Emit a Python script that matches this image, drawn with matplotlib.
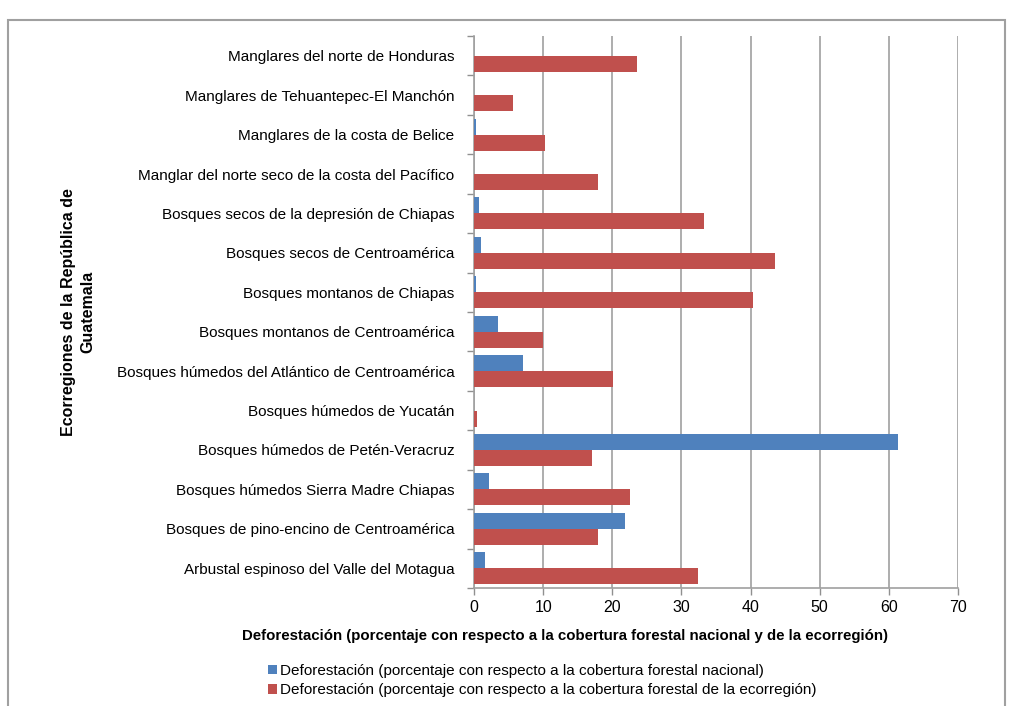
import matplotlib.pyplot as plt
import matplotlib.patches as patches
import numpy as np

plt.rcParams['font.family'] = ['Liberation Sans Narrow', 'Liberation Sans', 'DejaVu Sans']

# categories listed bottom to top (as drawn)
categories = [
    'Arbustal espinoso del Valle del Motagua',
    'Bosques de pino-encino de Centroamérica',
    'Bosques húmedos Sierra Madre Chiapas',
    'Bosques húmedos de Petén-Veracruz',
    'Bosques húmedos de Yucatán',
    'Bosques húmedos del Atlántico de Centroamérica',
    'Bosques montanos de Centroamérica',
    'Bosques montanos de Chiapas',
    'Bosques secos de Centroamérica',
    'Bosques secos de la depresión de Chiapas',
    'Manglar del norte seco de la costa del Pacífico',
    'Manglares de la costa de Belice',
    'Manglares de Tehuantepec-El Manchón',
    'Manglares del norte de Honduras',
]
nacional = [1.6, 21.8, 2.1, 61.3, 0.0, 7.1, 3.4, 0.3, 1.0, 0.7, 0.05, 0.3, 0.0, 0.0]
ecorregion = [32.4, 17.9, 22.6, 17.0, 0.4, 20.1, 10.0, 40.3, 43.6, 33.2, 17.9, 10.3, 5.6, 23.6]

label_nac = 'Deforestación (porcentaje con respecto a la cobertura forestal nacional)'
label_eco = 'Deforestación (porcentaje con respecto a la cobertura forestal de la ecorregión)'

blue = '#4F81BD'
red = '#C0504D'

fig = plt.figure(figsize=(10.11, 7.06), dpi=100)
ax = fig.add_axes([474/1011, 1-588/706, (958-474)/1011, (588-36)/706])

y = np.arange(len(categories))
h = 0.405
ax.barh(y + h/2, nacional, h, color=blue, label=label_nac, zorder=3)
ax.barh(y - h/2, ecorregion, h, color=red, label=label_eco, zorder=3)

ax.set_xlim(0, 70)
ax.set_ylim(-0.5, len(categories) - 0.5)
ax.set_xticks(np.arange(0, 71, 10))
ax.xaxis.grid(True, color='#A0A0A0', lw=1.2, zorder=0)
ax.set_yticks(y)
ax.set_yticklabels(categories, fontsize=11)
ax.set_yticks(np.arange(-0.5, len(categories), 1), minor=True)
ax.tick_params(axis='y', which='major', length=0, pad=14)
ax.tick_params(axis='y', which='minor', length=5, color='#909090', width=1)
ax.tick_params(axis='x', length=5, color='#909090', width=1, labelsize=11.5, pad=4)

for s in ['top', 'right']:
    ax.spines[s].set_visible(False)
for s in ['left', 'bottom']:
    ax.spines[s].set_color('#A0A0A0')
    ax.spines[s].set_linewidth(1.2)

fig.text(565/1011, 1-636/706, 'Deforestación (porcentaje con respecto a la cobertura forestal nacional y de la ecorregión)',
         ha='center', va='center', fontsize=10.8, fontweight='bold')
fig.text(78/1011, 1-312/706, 'Ecorregiones de la República de\nGuatemala', rotation=90,
         ha='center', va='center', fontsize=11.5, fontweight='bold', linespacing=1.35)

fig.legend(loc='upper left', bbox_to_anchor=(268/1011, 1-664/706), frameon=False,
           fontsize=11, handlelength=0.6, handleheight=0.6, handletextpad=0.2,
           labelspacing=0.35, borderaxespad=0, borderpad=0)

fig.patches.append(patches.Rectangle((8/1011, -0.05), (1005-8)/1011, 1.05 - 20/706,
                                     transform=fig.transFigure, fill=False,
                                     edgecolor='#A0A0A0', lw=1.5))

fig.savefig('out.png', dpi=100)
